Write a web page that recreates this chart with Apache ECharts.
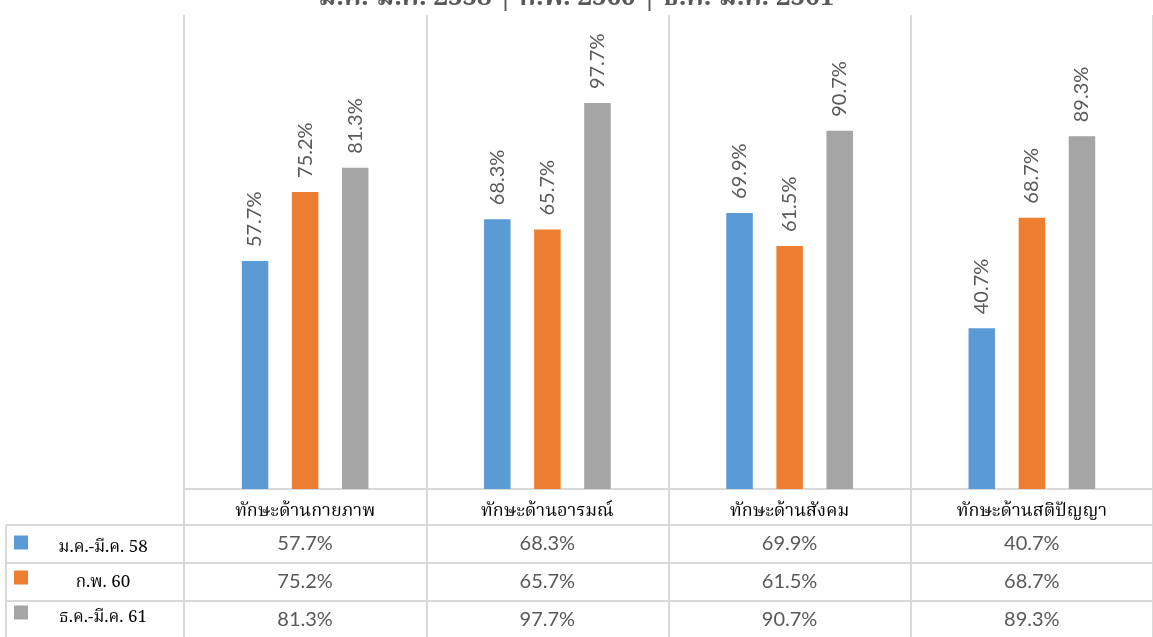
<!DOCTYPE html>
<html lang="th">

<head>
  <meta charset="UTF-8">
  <title>ทักษะ</title>
  <style>
    html, body { margin: 0; padding: 0; background: #fff; }
    #main { width: 1153px; height: 637px; }
  </style>
  <script src="https://cdn.jsdelivr.net/npm/echarts@6/dist/echarts.min.js"></script>
</head>

<body>
  <div id="main"></div>
  <script>
    // data
    var categories = ['ทักษะด้านกายภาพ', 'ทักษะด้านอารมณ์', 'ทักษะด้านสังคม', 'ทักษะด้านสติปัญญา'];
    var seriesNames = ['ม.ค.-มี.ค. 58', 'ก.พ. 60', 'ธ.ค.-มี.ค. 61'];
    var valuesMar58 = [57.7, 68.3, 69.9, 40.7];
    var valuesFeb60 = [75.2, 65.7, 61.5, 68.7];
    var valuesMar61 = [81.3, 97.7, 90.7, 89.3];
    var colors = ['#5b9bd5', '#ed7d31', '#a5a5a5'];

    var allValues = [valuesMar58, valuesFeb60, valuesMar61];
    var thaiFont = '"TH SarabunPSK", "Norasi", "Noto Serif Thai", "Noto Sans Thai", "Liberation Serif", serif';
    var numFont = 'Lato, "Open Sans", sans-serif';
    var lineColor = '#d9d9d9';
    var textColor = '#595959';

    var chart = echarts.init(document.getElementById('main'));

    // one x axis for the category header, one per table row below it
    var xAxes = [{
      type: 'category',
      data: categories,
      position: 'bottom',
      axisLine: { lineStyle: { color: lineColor, width: 2 } },
      axisTick: { show: true, length: 36, lineStyle: { color: lineColor, width: 2 } },
      splitLine: { show: true, lineStyle: { color: lineColor, width: 2 } },
      axisLabel: {
        interval: 0, margin: 24, verticalAlign: 'middle',
        fontFamily: thaiFont, fontSize: 18, color: '#000'
      }
    }];
    allValues.forEach(function (vals, i) {
      xAxes.push({
        type: 'category',
        data: categories,
        position: 'bottom',
        offset: 36 + i * 38,
        axisLine: { lineStyle: { color: lineColor, width: 2 } },
        axisTick: { show: true, length: 38, lineStyle: { color: lineColor, width: 2 } },
        splitLine: { show: false },
        axisLabel: {
          interval: 0, margin: 19, verticalAlign: 'middle',
          fontFamily: numFont, fontSize: 20, color: textColor,
          formatter: function (v, idx) { return vals[idx].toFixed(1) + '%'; }
        }
      });
    });

    var series = allValues.map(function (vals, i) {
      return {
        name: seriesNames[i],
        type: 'bar',
        xAxisIndex: 0,
        data: vals,
        barWidth: 26.5,
        barGap: '89%',
        itemStyle: { color: colors[i] },
        label: {
          show: true,
          position: 'top',
          rotate: 90,
          align: 'left',
          verticalAlign: 'middle',
          distance: 14,
          fontFamily: numFont,
          fontSize: 20,
          color: textColor,
          formatter: function (p) { return p.value.toFixed(1) + '%'; }
        }
      };
    });

    var option = {
      animation: false,
      title: {
        text: 'ม.ค.-มี.ค. 2558 | ก.พ. 2560 | ธ.ค.-มี.ค. 2561',
        left: 'center',
        top: -17,
        textStyle: { fontFamily: thaiFont, fontWeight: 'bold', fontSize: 26, color: textColor }
      },
      legend: {
        orient: 'vertical',
        left: 14,
        top: 527,
        padding: 0,
        icon: 'rect',
        itemWidth: 14,
        itemHeight: 14,
        itemGap: 4,
        selectedMode: false,
        data: seriesNames,
        formatter: function (name) { return '{n|' + name + '}'; },
        textStyle: {
          rich: {
            n: { width: 140, align: 'center', lineHeight: 20, padding: [14, 0, 0, 0], fontFamily: thaiFont, fontSize: 17, color: '#000' }
          }
        }
      },
      grid: { left: 184, right: -2, top: 15, bottom: 148 },
      xAxis: xAxes,
      yAxis: { type: 'value', min: 0, max: 120, show: false },
      // left part of the table frame
      graphic: [
        { type: 'line', shape: { x1: 6, y1: 525, x2: 184, y2: 525 }, style: { stroke: lineColor, lineWidth: 2 } },
        { type: 'line', shape: { x1: 6, y1: 563, x2: 184, y2: 563 }, style: { stroke: lineColor, lineWidth: 2 } },
        { type: 'line', shape: { x1: 6, y1: 601, x2: 184, y2: 601 }, style: { stroke: lineColor, lineWidth: 2 } },
        { type: 'line', shape: { x1: 6, y1: 525, x2: 6, y2: 640 }, style: { stroke: lineColor, lineWidth: 2 } }
      ],
      series: series
    };

    chart.setOption(option);
  </script>
</body>

</html>
